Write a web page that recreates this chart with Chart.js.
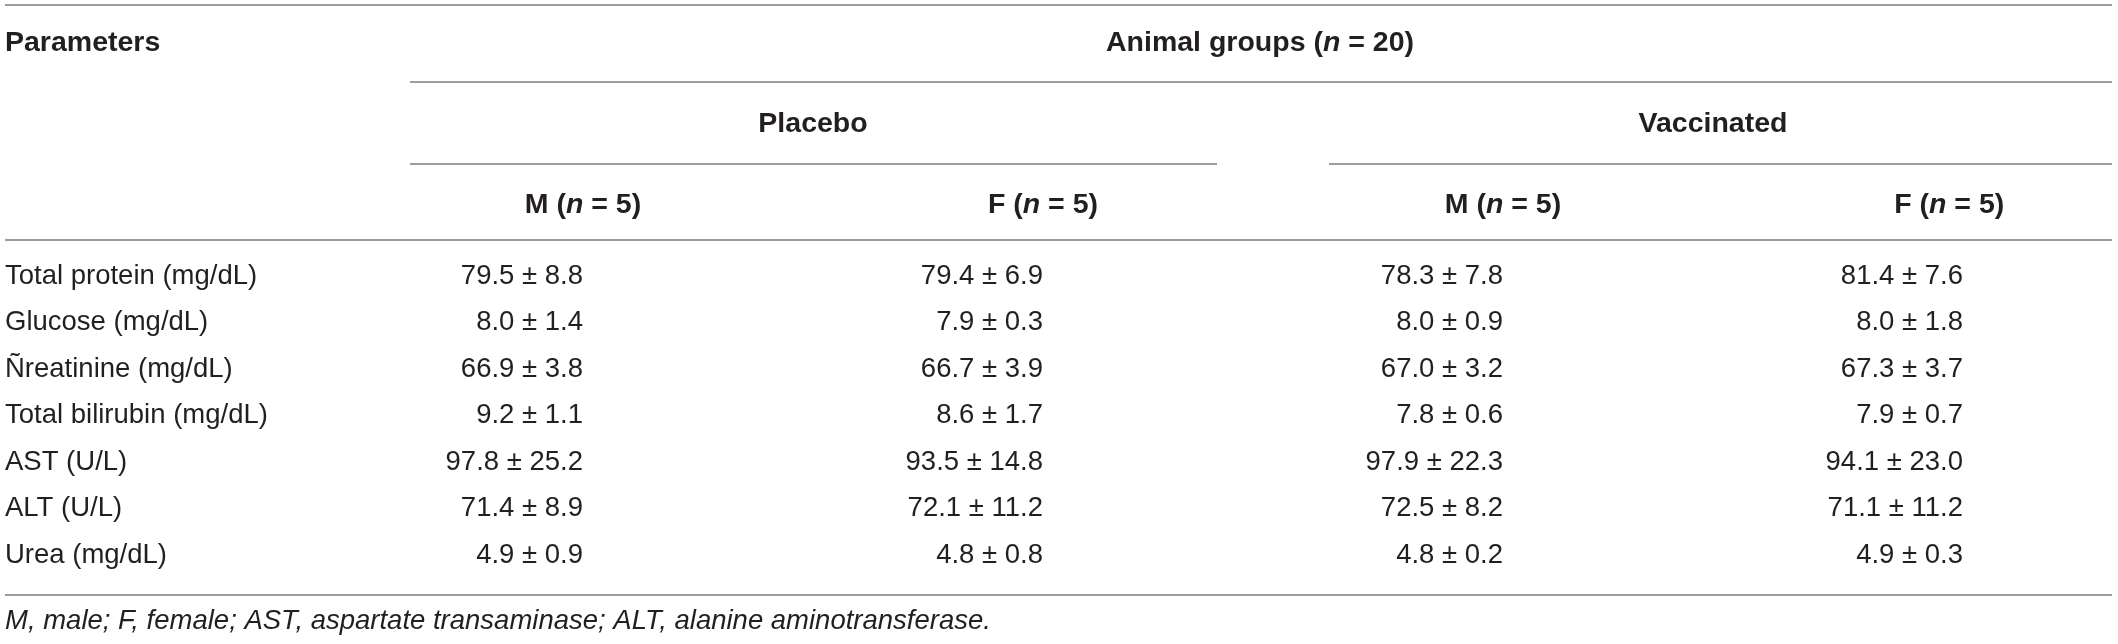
<!DOCTYPE html>
<html>
<head>
<meta charset="utf-8">
<script src="https://cdn.jsdelivr.net/npm/chart.js@4.4.0/dist/chart.umd.min.js"></script>
<style>
  html, body { margin: 0; padding: 0; background: #fff; }
  .table-container { width: 2118px; height: 644px; position: relative; }
</style>
</head>
<body>
<div class="table-container">
  <canvas id="statsTable"></canvas>
</div>
<script>
// table data
const parameters = ["Total protein (mg/dL)", "Glucose (mg/dL)", "Ñreatinine (mg/dL)", "Total bilirubin (mg/dL)", "AST (U/L)", "ALT (U/L)", "Urea (mg/dL)"];
const groupLabels = ["Placebo", "Vaccinated"];
const sexLabels = ["M", "F", "M", "F"];
const sexCounts = [5, 5, 5, 5];
const totalCount = 20;

const placeboMaleMean = [79.5, 8.0, 66.9, 9.2, 97.8, 71.4, 4.9];
const placeboMaleSD = [8.8, 1.4, 3.8, 1.1, 25.2, 8.9, 0.9];
const placeboFemaleMean = [79.4, 7.9, 66.7, 8.6, 93.5, 72.1, 4.8];
const placeboFemaleSD = [6.9, 0.3, 3.9, 1.7, 14.8, 11.2, 0.8];
const vaccinatedMaleMean = [78.3, 8.0, 67.0, 7.8, 97.9, 72.5, 4.8];
const vaccinatedMaleSD = [7.8, 0.9, 3.2, 0.6, 22.3, 8.2, 0.2];
const vaccinatedFemaleMean = [81.4, 8.0, 67.3, 7.9, 94.1, 71.1, 4.9];
const vaccinatedFemaleSD = [7.6, 1.8, 3.7, 0.7, 23.0, 11.2, 0.3];

const footnote = "M, male; F, female; AST, aspartate transaminase; ALT, alanine aminotransferase.";

const columns = [
  {mean: placeboMaleMean, sd: placeboMaleSD},
  {mean: placeboFemaleMean, sd: placeboFemaleSD},
  {mean: vaccinatedMaleMean, sd: vaccinatedMaleSD},
  {mean: vaccinatedFemaleMean, sd: vaccinatedFemaleSD}
];

// layout (pixels)
const W = 2118, H = 644;
const COL_STEP = 460, FIRST_COL_PX = 583;
const ROW_STEP = 46.5, FIRST_ROW_PX = 276;
const FONT = '"Liberation Sans", Arial, Helvetica, sans-serif';
const TEXT = "#231f20";
const RULE = "#9d9d9d";

function rich(ctx, parts, x, y, align) {
  let total = 0;
  parts.forEach(p => { ctx.font = p[1]; total += ctx.measureText(p[0]).width; });
  let cx = align === "center" ? x - total / 2 : x;
  ctx.textAlign = "left";
  parts.forEach(p => {
    ctx.font = p[1];
    ctx.fillText(p[0], cx, y);
    cx += ctx.measureText(p[0]).width;
  });
}

const tablePlugin = {
  id: "tablePlugin",
  afterDatasetsDraw(chart) {
    const ctx = chart.ctx;
    const xs = chart.scales.x, ys = chart.scales.y;
    const B = "bold 28.5px " + FONT, BI = "italic bold 28.5px " + FONT;
    const R = "27.5px " + FONT;
    ctx.save();
    ctx.fillStyle = TEXT;
    ctx.textBaseline = "middle";

    // rules
    ctx.strokeStyle = RULE;
    ctx.lineWidth = 2;
    const rules = [[5, 2112, 5], [410, 2112, 82], [410, 1217, 164], [1329, 2112, 164], [5, 2112, 240], [5, 2112, 595]];
    rules.forEach(r => {
      ctx.beginPath(); ctx.moveTo(r[0], r[2]); ctx.lineTo(r[1], r[2]); ctx.stroke();
    });

    // headers
    rich(ctx, [["Parameters", B]], 5, 43, "left");
    rich(ctx, [["Animal groups (", B], ["n", BI], [" = " + totalCount + ")", B]], 1260, 43, "center");
    rich(ctx, [[groupLabels[0], B]], 813, 124, "center");
    rich(ctx, [[groupLabels[1], B]], 1713, 124, "center");
    const headerCols = [1, 2, 3, 3.97];
    sexLabels.forEach((s, i) => {
      rich(ctx, [[s + " (", B], ["n", BI], [" = " + sexCounts[i] + ")", B]], xs.getPixelForValue(headerCols[i]), 205, "center");
    });

    // row labels
    const labelMeta = chart.getDatasetMeta(0);
    ctx.font = R;
    ctx.textAlign = "left";
    labelMeta.data.forEach((pt, i) => ctx.fillText(parameters[i], 5, pt.y));

    // value cells
    ctx.textAlign = "right";
    columns.forEach((col, c) => {
      const meta = chart.getDatasetMeta(c + 1);
      meta.data.forEach((pt, i) => {
        ctx.fillText(col.mean[i].toFixed(1) + " \u00b1 " + col.sd[i].toFixed(1), pt.x, pt.y);
      });
    });

    // footnote
    ctx.font = "italic 27.5px " + FONT;
    ctx.textAlign = "left";
    ctx.fillText(footnote, 5, 621);
    ctx.restore();
  }
};

const xMin = 1 - FIRST_COL_PX / COL_STEP;
const yMin = -FIRST_ROW_PX / ROW_STEP;

const datasets = [{label: "Parameters", data: parameters.map((p, i) => ({x: 0, y: i})), pointRadius: 0}]
  .concat(columns.map((col, c) => ({
    label: sexLabels[c],
    data: col.mean.map((m, i) => ({x: c + 1, y: i})),
    pointRadius: 0
  })));

new Chart(document.getElementById("statsTable").getContext("2d"), {
  type: "scatter",
  data: {datasets: datasets},
  options: {
    responsive: true,
    maintainAspectRatio: false,
    animation: false,
    devicePixelRatio: 1,
    layout: {padding: 0},
    plugins: {legend: {display: false}, tooltip: {enabled: false}},
    scales: {
      x: {type: "linear", display: false, min: xMin, max: xMin + W / COL_STEP},
      y: {type: "linear", display: false, reverse: true, min: yMin, max: yMin + H / ROW_STEP}
    }
  },
  plugins: [tablePlugin]
});
</script>
</body>
</html>
